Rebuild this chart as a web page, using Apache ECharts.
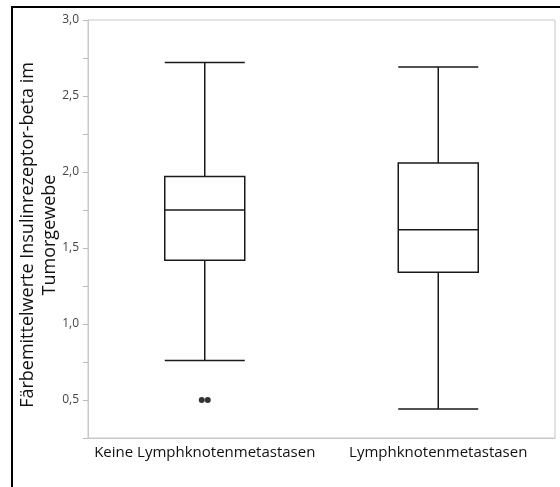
<!DOCTYPE html>
<html>
<head>
<meta charset="utf-8">
<script src="https://cdn.jsdelivr.net/npm/echarts@6/dist/echarts.min.js"></script>
<style>
  html, body { margin: 0; padding: 0; background: #fff; }
  #chart { width: 560px; height: 487px; }
</style>
</head>
<body>
<div id="chart"></div>
<script>
// Gruppen auf der x-Achse
const categories = ['Keine Lymphknotenmetastasen', 'Lymphknotenmetastasen'];
// Boxplot-Kennwerte je Gruppe: [Minimum, Q1, Median, Q3, Maximum]
const boxKeine = [0.76, 1.42, 1.75, 1.97, 2.72];
const boxLymph = [0.44, 1.34, 1.62, 2.06, 2.69];
// Ausreißer: [Gruppenindex, Wert]
const outliers = [[0, 0.50], [0, 0.50]];
// y-Achsen-Beschriftung
const yTickLabels = [0.5, 1.0, 1.5, 2.0, 2.5, 3.0];
const yTitle = 'Färbemittelwerte Insulinrezeptor-beta im\nTumorgewebe';

const chart = echarts.init(document.getElementById('chart'), null, { renderer: 'canvas' });
const fontFam = '"Open Sans", "Noto Sans", sans-serif';

chart.setOption({
  animation: false,
  backgroundColor: '#fff',
  grid: { left: 88, top: 20, right: 5, bottom: 49, show: true, borderColor: '#c8c8c8', borderWidth: 1 },
  graphic: [
    {
      type: 'rect',
      shape: { x: 12, y: 7, width: 620, height: 600 },
      style: { fill: 'none', stroke: '#000', lineWidth: 2 },
      silent: true
    },
    {
      // y-Achsentitel, zweizeilig und gedreht
      type: 'text',
      x: 39,
      y: 235,
      rotation: Math.PI / 2,
      style: {
        text: yTitle,
        fill: '#111',
        font: '18px "Open Sans", "Noto Sans", sans-serif',
        lineHeight: 22,
        align: 'center',
        verticalAlign: 'middle'
      },
      silent: true
    }
  ],
  xAxis: {
    type: 'category',
    data: categories,
    boundaryGap: true,
    axisLine: { lineStyle: { color: '#c8c8c8' } },
    axisTick: { show: false },
    axisLabel: { color: '#111', fontSize: 15, fontFamily: fontFam, margin: 7, interval: 0 }
  },
  yAxis: {
    type: 'value',
    min: 0.25,
    max: 3.0,
    interval: 0.25,
    axisLine: { show: true, lineStyle: { color: '#c8c8c8' } },
    axisTick: { show: true, length: 5, lineStyle: { color: '#bbb' } },
    splitLine: { show: false },
    axisLabel: {
      color: '#444', fontSize: 12, fontFamily: fontFam, margin: 9,
      formatter: v => {
        const hit = yTickLabels.find(t => Math.abs(t - v) < 1e-6);
        return hit === undefined ? '' : hit.toFixed(1).replace('.', ',');
      }
    }
  },
  series: [
    {
      type: 'boxplot',
      data: [boxKeine, boxLymph],
      boxWidth: [80, 80],
      itemStyle: { color: '#fff', borderColor: '#1a1a1a', borderWidth: 1.5 },
      emphasis: { disabled: true }
    },
    {
      type: 'scatter',
      data: [outliers[0]],
      symbolSize: 6,
      symbolOffset: [-3, 0],
      itemStyle: { color: '#000' },
      z: 5
    },
    {
      type: 'scatter',
      data: [outliers[1]],
      symbolSize: 6,
      symbolOffset: [3, 0],
      itemStyle: { color: '#000' },
      z: 5
    }
  ]
});
</script>
</body>
</html>
